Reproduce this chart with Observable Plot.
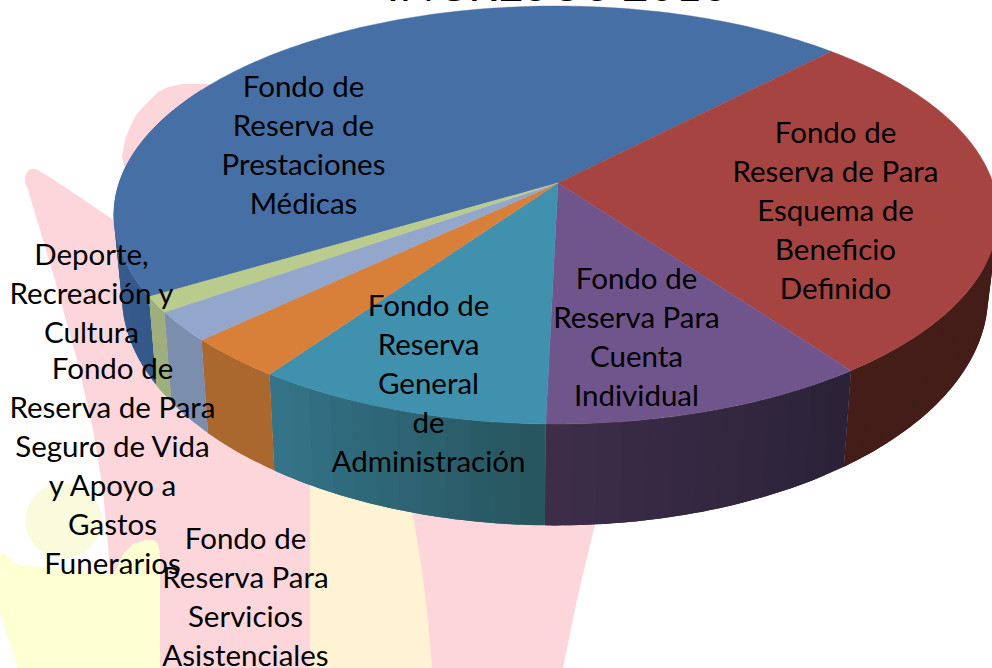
<!DOCTYPE html>
<html><head><meta charset="utf-8">
<script src="https://cdn.jsdelivr.net/npm/d3@7"></script>
<script src="https://cdn.jsdelivr.net/npm/@observablehq/plot@0.6"></script>
<style>html,body{margin:0;padding:0;background:#fff}svg{display:block}</style>
</head><body><div id="chart"></div>
<script>
const categories = [
  "Fondo de\nReserva de\nPrestaciones\nMédicas",
  "Fondo de\nReserva de Para\nEsquema de\nBeneficio\nDefinido",
  "Fondo de\nReserva Para\nCuenta\nIndividual",
  "Fondo de\nReserva\nGeneral\nde\nAdministración",
  "Fondo de\nReserva Para\nServicios\nAsistenciales",
  "Fondo de\nReserva de Para\nSeguro de Vida\ny Apoyo a\nGastos\nFunerarios",
  "Deporte,\nRecreación y\nCultura"
];
const values = [45.9, 27.6, 10.4, 9.4, 3.2, 2.3, 1.2];
const topColors = ["#4670a5","#a64442","#70558c","#3f91ae","#d8803a","#93a7cc","#b9cc8e"];
const wallFrom  = ["#3d6593","#441c18","#3e2e4a","#35768c","#aa682f","#7c8eae","#9fae7d"];
const wallTo    = ["#35588a","#441c18","#2b2238","#27565f","#aa682f","#7c8eae","#9fae7d"];
const labelX = [303, 835, 636, 428, 245, 112, 91];
const labelY = [142.5, 208, 334.5, 381, 595, 463.5, 291];
const titleText = "INGRESOS 2013";

// Faint logo behind the chart: rows of y, left x, right x
const logoPink = [[169,30,36],[172,27,41],[176,25,48],[182,25,57],[190,28,69],[200,31,84],[223,38,118],[250,46,600],[273,53,600],[360,77,600],[430,93,600],[490,103,600],[525,106,595],[545,108,590],[600,112,577],[668,116,563]];
const logoBlob = [[84,183,207],[87,168,230],[92,158,250],[103,147,280],[115,136,300],[127,130,300],[140,125,300],[157,122,300],[170,125,300]];
const logoStrip = [[470,310,405],[515,310,413],[570,310,422],[620,310,428],[668,310,432]];
const logoLow  = [[553,0,2],[565,0,18],[577,0,160],[613,0,160],[668,18,160]];
const logoBump = [[540,146,154],[544,133,158],[553,124,160],[565,118,160],[580,110,160]];
const logoDot  = [{x:63,y:520}];

// Perspective of the disc
const persp = 0.153;
const project = (angleDeg, cx, R, a, b) => {
  const t = angleDeg * Math.PI / 180, u = Math.sin(t), v = -Math.cos(t), w = 1 - persp * v;
  return [cx + R * u / w, (a * v + b) / w];
};
const topPt = d => project(d, 556, 437, 176.1, 183);
const lowPt = d => project(d, 555, 428, 185, 260);
const apex = [558, 183];

const arcs = d3.pie().sort(null).startAngle(239.1*Math.PI/180).endAngle((239.1+360)*Math.PI/180)(values);

const surface = [], wall = [];
arcs.forEach((s, i) => {
  const a0 = s.startAngle*180/Math.PI, a1 = s.endAngle*180/Math.PI;
  const n = Math.max(2, Math.ceil(a1 - a0));
  for (let k = 0; k <= n; k++) {
    const [x, y] = topPt(a0 + (a1 - a0) * k / n);
    surface.push({i, x1: apex[0], y1: apex[1], x2: x, y2: y, color: topColors[i]});
  }
  // only the side facing the viewer
  const front = i === 0 ? [a0, a0 + 60] : (i === 1 ? [Math.max(a0, 450), a1] : [a0, a1]);
  const m = Math.max(2, Math.ceil((front[1] - front[0]) / 3));
  const step = (front[1]-front[0]) / m;
  const mix = d3.interpolateRgb(wallFrom[i], wallTo[i]);
  for (let k = 0; k < m; k++) {
    const p = front[0] + step * k, q = Math.min(front[1], p + step * 2);
    const color = mix(1 - k/m);
    d3.range(0, 7).forEach(j => {
      const a = p + (q - p) * j / 6;
      const A = topPt(a), B = lowPt(a);
      wall.push({key: i + "-" + k, x1: A[0], y1: A[1], x2: B[0], y2: B[1], color});
    });
  }
});

const labels = categories.map((text, i) => ({text, x: labelX[i], y: labelY[i]}));
const band = (rows, fill) => Plot.area(rows, {y1: d => d[0], y2: d => d[0], x1: d => d[1], x2: d => d[2], fill, curve: "linear"});

const chart = Plot.plot({
  width: 992, height: 668,
  margin: 0,
  x: {domain: [0, 992], range: [0, 992], axis: null},
  y: {domain: [0, 668], range: [0, 668], axis: null},
  style: {background: "#fff"},
  marks: [
    band(logoPink, "#fdd6db"),
    band(logoBlob, "#fdd6db"),
    band(logoStrip, "#fff3d3"),
    Plot.dot(logoDot, {x: "x", y: "y", r: 38, fill: "#f9fbdc"}),
    band(logoLow, "#feffd2"),
    band(logoBump, "#feffd2"),
    Plot.area(wall, {x1: "x1", y1: "y1", x2: "x2", y2: "y2", z: "key",
      fill: {value: "color", scale: null}}),
    Plot.area(surface, {x1: "x1", y1: "y1", x2: "x2", y2: "y2", z: "i",
      fill: {value: "color", scale: null}, stroke: {value: "color", scale: null}, strokeWidth: 0.4}),
    Plot.text(labels, {x: "x", y: "y", text: "text", fontFamily: "Lato", fontSize: 29.5, lineHeight: 39/29.5, fill: "#000", textAnchor: "middle"}),
    Plot.text([titleText], {x: [557], y: [-14], text: d => d, fontFamily: "Lato", fontSize: 46, fontWeight: 400, fill: "#000", textAnchor: "middle"})
  ]
});
document.getElementById("chart").appendChild(chart);
</script></body></html>
